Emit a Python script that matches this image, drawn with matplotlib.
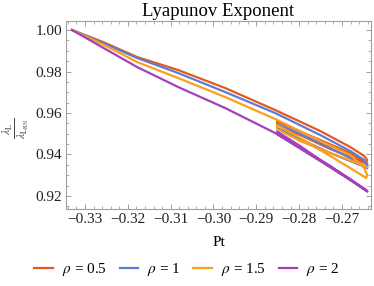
import matplotlib
matplotlib.use("Agg")
import matplotlib.pyplot as plt
from matplotlib.ticker import MultipleLocator

plt.rcParams['font.family'] = ['Liberation Serif', 'DejaVu Serif']
plt.rcParams['mathtext.fontset'] = 'stix'
plt.rcParams['axes.unicode_minus'] = True

# values (upper branch -> tip -> back to cusp -> lower branch)
pt_05 = [-0.33304, -0.32579, -0.31785, -0.30827, -0.29729, -0.28561, -0.27509, -0.26808, -0.26481, -0.26411,
         -0.26435, -0.26808, -0.27509, -0.27977, -0.28514,
         -0.28514, -0.27977, -0.27276, -0.26575, -0.26411]
lam_05 = [1.00000, 0.99422, 0.98699, 0.98072, 0.97205, 0.96145, 0.95133, 0.94361, 0.93928, 0.93735,
          0.93590, 0.94072, 0.94699, 0.95108, 0.95590,
          0.95422, 0.94940, 0.94265, 0.93687, 0.93542]

pt_1 = [-0.33304, -0.32579, -0.31785, -0.30827, -0.29729, -0.28561, -0.27509, -0.26808, -0.26481, -0.26411,
        -0.26435, -0.26808, -0.27509, -0.27977, -0.28514,
        -0.28514, -0.27977, -0.27276, -0.26575, -0.26411]
lam_1 = [1.00000, 0.99373, 0.98651, 0.97928, 0.97012, 0.96000, 0.94940, 0.94169, 0.93735, 0.93494,
         0.93398, 0.93831, 0.94554, 0.94988, 0.95470,
         0.95277, 0.94747, 0.94072, 0.93494, 0.93349]

pt_15 = [-0.33304, -0.32579, -0.31785, -0.30827, -0.29729, -0.28561, -0.27509, -0.26808, -0.26481, -0.26411,
         -0.26435, -0.26808, -0.27509, -0.27977, -0.28514,
         -0.28514, -0.27977, -0.27276, -0.26575, -0.26411]
lam_15 = [1.00000, 0.99301, 0.98458, 0.97687, 0.96771, 0.95711, 0.94651, 0.93976, 0.93349, 0.93012,
          0.92867, 0.93349, 0.94217, 0.94795, 0.95422,
          0.95229, 0.94651, 0.94072, 0.93542, 0.93398]

pt_2 = [-0.33304, -0.32579, -0.31785, -0.30827, -0.29729, -0.28561, -0.27509, -0.26808, -0.26411,
        -0.26435, -0.26808, -0.27509, -0.27977, -0.28514,
        -0.28514, -0.27977, -0.27276, -0.26411]
lam_2 = [1.00000, 0.99147, 0.98217, 0.97253, 0.96241, 0.95036, 0.93687, 0.92771, 0.92241,
         0.92289, 0.92819, 0.93735, 0.94410, 0.95108,
         0.94988, 0.94337, 0.93446, 0.92217]

labels = [r'$\rho$ = 0.5', r'$\rho$ = 1', r'$\rho$ = 1.5', r'$\rho$ = 2']
colors = ['#E35A1F', '#5F7BD3', '#F9A01B', '#A440BC']

fig = plt.figure(figsize=(3.74, 2.86), dpi=100)
ax = fig.add_axes([66/374, 77/286, 305/374, 188/286])

series = [(pt_05, lam_05), (pt_1, lam_1), (pt_15, lam_15), (pt_2, lam_2)]
for (x, y), c, lab in zip(series, colors, labels):
    ax.plot(x, y, color=c, lw=1.6, label=lab, solid_joinstyle='round')

ax.set_xlim(-0.33444, -0.26322)
ax.set_ylim(0.91373, 1.00434)
ax.xaxis.set_major_locator(MultipleLocator(0.01))
ax.xaxis.set_minor_locator(MultipleLocator(0.002))
ax.yaxis.set_major_locator(MultipleLocator(0.02))
ax.yaxis.set_minor_locator(MultipleLocator(0.005))
ax.xaxis.set_major_formatter(plt.FuncFormatter(lambda v, p: f"{v:.2f}".replace('-', '\u2212')))
ax.yaxis.set_major_formatter(plt.FuncFormatter(lambda v, p: f"{v:.2f}"))

for s in ax.spines.values():
    s.set_color('#a0a0a0')
    s.set_linewidth(0.8)
ax.tick_params(which='both', direction='in', top=True, right=True, color='#a0a0a0',
               labelsize=11, labelcolor='#222222', pad=3)
ax.tick_params(which='major', length=3.5, width=0.7)
ax.tick_params(which='minor', length=2, width=0.6)

fig.text(218.5/374, 1 - 11/286, 'Lyapunov Exponent', ha='center', va='center', fontsize=13.5)
fig.text(218.5/374, 1 - 243/286, 'Pt', ha='center', va='center', fontsize=11)
fig.text(16/374, 1 - 128/286, r'$\frac{\lambda_{\mathrm{L}}}{\lambda_{\mathrm{L}_{\mathrm{RN}}}}$',
         ha='center', va='center', rotation=90, fontsize=12, color='#444444')

fig.legend(loc='center', bbox_to_anchor=(187/374, 1 - 270/286), ncol=4, frameon=False,
           fontsize=11, handlelength=1.2, handletextpad=0.6, columnspacing=0.85,
           borderaxespad=0, borderpad=0)

fig.savefig('out.png', dpi=100)
